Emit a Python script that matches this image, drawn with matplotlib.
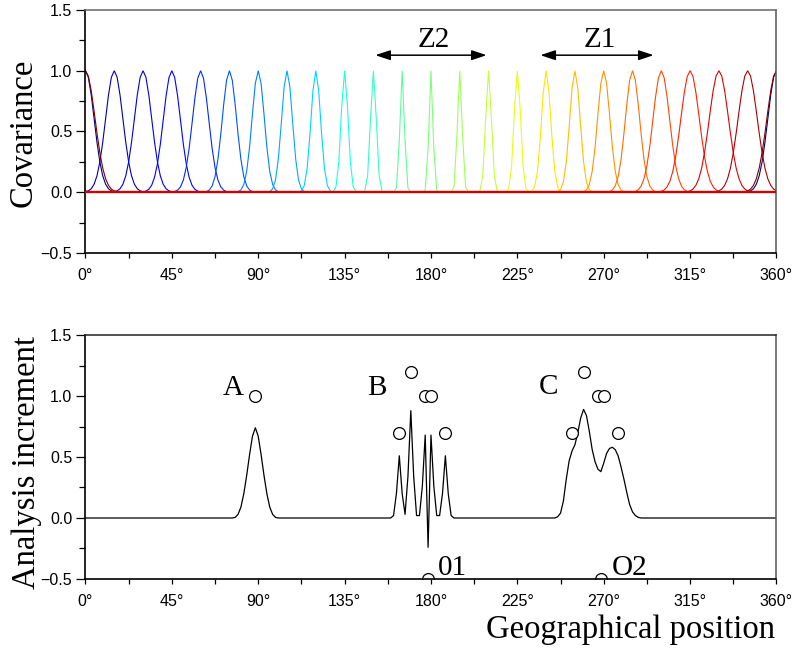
import numpy as np
import matplotlib
matplotlib.use("Agg")
import matplotlib.pyplot as plt
from matplotlib.ticker import MultipleLocator

plt.rcParams["font.family"] = ["Liberation Sans", "DejaVu Sans"]

# ---- covariance functions (top panel) ----
cov_centres = [0, 15, 30, 45, 60, 75, 90, 105, 120, 135, 150, 165, 180,
               195, 210, 225, 240, 255, 270, 285, 300, 315, 330, 345, 360]
cov_scales = [4.5, 4.5, 4.5, 4.4, 4.2, 3.7, 3.2, 2.8, 2.5, 1.8, 1.5, 1.15, 1.05,
              1.2, 1.5, 1.7, 2.4, 2.7, 3.2, 3.7, 4.3, 4.8, 5.0, 5.0, 5.0]
grid_step = 1.5

# zones marked with arrows
zone_names = ["Z2", "Z1"]
zone_start = [151.0, 237.0]
zone_end = [209.0, 296.0]

# ---- analysis increment (bottom panel) ----
incr_x = [0, 76.5, 78, 79.5, 81, 82.5, 84, 85.5, 87, 88.5, 90, 91.5, 93, 94.5,
          96, 97.5, 99, 100.5,
          159, 160.5, 162, 163.5, 165, 166.5, 168, 169.5, 171, 172.5, 174,
          175.5, 177, 178.5, 180, 181.5, 183, 184.5, 186, 187.5, 189, 190.5, 192,
          244.5, 246, 247.5, 249, 250.5, 252, 253.5, 255, 256.5, 258, 259.5,
          261, 262.5, 264, 265.5, 267, 268.5, 270, 271.5, 273, 274.5, 276,
          277.5, 279, 280.5, 282, 283.5, 285, 286.5, 288, 289.5, 360]
incr_y = [0, 0.0, 0.005, 0.03, 0.09, 0.2, 0.35, 0.52, 0.67, 0.74, 0.67, 0.52,
          0.35, 0.2, 0.09, 0.03, 0.005, 0.0,
          0.0, 0.02, 0.2, 0.51, 0.2, 0.03, 0.34, 0.88, 0.34, 0.02, 0.02,
          0.26, 0.68, -0.24, 0.68, 0.26, 0.02, 0.02, 0.2, 0.51, 0.2, 0.02, 0.0,
          0.0, 0.01, 0.04, 0.14, 0.32, 0.47, 0.55, 0.60, 0.70, 0.82, 0.89,
          0.84, 0.71, 0.56, 0.46, 0.40, 0.38, 0.45, 0.53, 0.57, 0.58, 0.56,
          0.51, 0.42, 0.32, 0.21, 0.11, 0.05, 0.02, 0.005, 0.0, 0]

obs_x = [88.5, 163.5, 169.5, 177, 180, 187.5, 253.5, 259.5, 267, 270, 277.5,
         178.5, 268.5]
obs_y = [1.0, 0.7, 1.2, 1.0, 1.0, 0.7, 0.7, 1.2, 1.0, 1.0, 0.7, -0.5, -0.5]

group_names = ["A", "B", "C", "01", "O2"]
group_x = [77.0, 151.7, 241.4, 191.2, 283.7]
group_y = [1.01, 1.01, 1.02, -0.465, -0.465]

xtick_pos = [0, 45, 90, 135, 180, 225, 270, 315, 360]
xtick_labels = ["0°", "45°", "90°", "135°", "180°", "225°", "270°", "315°", "360°"]
ytick_pos = [-0.5, 0.0, 0.5, 1.0, 1.5]
ytick_labels = ["\u22120.5", "0.0", "0.5", "1.0", "1.5"]

SERIF = ["Liberation Serif", "DejaVu Serif"]

fig = plt.figure(figsize=(7.95, 6.48), dpi=100)
ax1 = fig.add_axes([0.1075, 0.6096, 0.8692, 0.3750])
ax2 = fig.add_axes([0.1075, 0.1065, 0.8692, 0.3765])


def style_axes(ax, top_color):
    ax.set_xlim(0, 360)
    ax.set_ylim(-0.5, 1.5)
    ax.set_xticks(xtick_pos, xtick_labels)
    ax.set_yticks(ytick_pos, ytick_labels)
    ax.xaxis.set_minor_locator(MultipleLocator(22.5))
    ax.yaxis.set_minor_locator(MultipleLocator(0.25))
    ax.tick_params(axis="both", which="both", direction="out",
                   labelsize=11.5, width=0.9, color="black")
    ax.tick_params(axis="y", which="major", length=6.5, pad=3)
    ax.tick_params(axis="y", which="minor", length=4.5)
    ax.tick_params(axis="x", which="major", length=3.5, pad=7)
    ax.tick_params(axis="x", which="minor", length=3.5)
    for s in ("left", "bottom"):
        ax.spines[s].set_color("black")
        ax.spines[s].set_linewidth(1.2)
    ax.spines["top"].set_color(top_color)
    ax.spines["top"].set_linewidth(1.1)
    ax.spines["right"].set_color("#555555")
    ax.spines["right"].set_linewidth(1.1)


# top panel: covariance functions on a periodic 1.5 degree grid
grid = np.arange(0, 360 + grid_step / 2, grid_step)
cmap = plt.get_cmap("jet")
n = len(cov_centres)
for i, (c, s) in enumerate(zip(cov_centres, cov_scales)):
    d = np.abs(grid - c)
    d = np.minimum(d, 360 - d)
    ax1.plot(grid, np.exp(-0.5 * (d / s) ** 2), color=cmap(i / (n - 1)),
             lw=0.8, solid_joinstyle="miter")
ax1.axhline(0, color="#d00000", lw=1.7, zorder=3)

for name, a, b in zip(zone_names, zone_start, zone_end):
    ax1.annotate("", xy=(b, 1.128), xytext=(a, 1.128),
                 arrowprops=dict(arrowstyle="<|-|>,head_length=0.9,head_width=0.3",
                                 color="black", lw=1.1, shrinkA=0, shrinkB=0,
                                 mutation_scale=10))
    ax1.text((a + b) / 2 + 1.5, 1.196, name, ha="center", va="baseline",
             fontsize=21, family=SERIF)

style_axes(ax1, "#666666")
fig.text(0.030, 0.7955, "Covariance", rotation=90, ha="center", va="center",
         fontsize=23.5, family=SERIF)

# bottom panel: analysis increment and observations
ax2.plot(incr_x, incr_y, color="black", lw=0.9)
ax2.plot(obs_x, obs_y, ls="none", marker="o", ms=8.5, mfc="white",
         mec="black", mew=0.9)
for name, x, y in zip(group_names, group_x, group_y):
    ax2.text(x, y, name, ha="center", va="baseline", fontsize=21, family=SERIF)

style_axes(ax2, "#222222")
fig.text(0.034, 0.287, "Analysis increment", rotation=90, ha="center",
         va="center", fontsize=23.5, family=SERIF)
fig.text(0.7925, 0.0154, "Geographical position", ha="center", va="baseline",
         fontsize=23.5, family=SERIF)

fig.savefig("out.png", dpi=100)
